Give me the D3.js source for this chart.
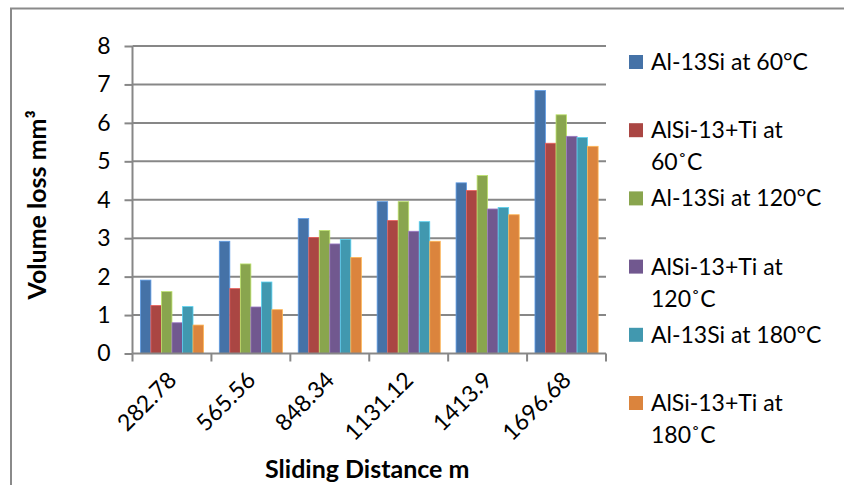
<!DOCTYPE html>
<html>
<head>
<meta charset="utf-8">
<script src="https://cdn.jsdelivr.net/npm/d3@7"></script>
<style>
  html, body { margin: 0; padding: 0; background: #fff; }
  svg { display: block; }
  text { font-family: Lato, "Noto Sans", sans-serif; fill: #000; }
</style>
</head>
<body>
<svg id="chart" width="844" height="485"></svg>
<script>
// Sliding distance categories (m)
const categories = ["282.78", "565.56", "848.34", "1131.12", "1413.9", "1696.68"];

// Volume loss (mm³) per series
const al13Si60   = [1.91, 2.92, 3.51, 3.95, 4.44, 6.84];
const alSiTi60   = [1.25, 1.69, 3.02, 3.46, 4.24, 5.47];
const al13Si120  = [1.61, 2.33, 3.20, 3.95, 4.63, 6.21];
const alSiTi120  = [0.80, 1.21, 2.85, 3.18, 3.76, 5.65];
const al13Si180  = [1.22, 1.86, 2.97, 3.43, 3.80, 5.62];
const alSiTi180  = [0.74, 1.14, 2.50, 2.92, 3.61, 5.39];

const seriesNames = [
  "Al-13Si at 60°C",
  "AlSi-13+Ti at 60˚C",
  "Al-13Si at 120°C",
  "AlSi-13+Ti at 120˚C",
  "Al-13Si at 180°C",
  "AlSi-13+Ti at 180˚C"
];
const seriesValues = [al13Si60, alSiTi60, al13Si120, alSiTi120, al13Si180, alSiTi180];
const seriesColors = ["#4572A7", "#AA4643", "#89A54E", "#71588F", "#4198AF", "#DB843D"];

const yTicks = [0, 1, 2, 3, 4, 5, 6, 7, 8];

const svg = d3.select("#chart");
const plot = { left: 132.5, right: 606, top: 46, bottom: 353.5 };
const gridColor = "#878787";
const fontSize = 23;
const titleSize = 25;

// Outer chart frame (left and top edges)
svg.append("path")
  .attr("d", "M11,485V8.5H844")
  .attr("fill", "none")
  .attr("stroke", "#8a8a8a")
  .attr("stroke-width", 2);

const y = d3.scaleLinear().domain([0, 8]).range([plot.bottom, plot.top]);
const x0 = d3.scaleBand().domain(categories).range([plot.left, plot.right])
  .paddingInner(0.2).paddingOuter(0.1);
const x1 = d3.scaleBand().domain(d3.range(seriesNames.length)).range([0, x0.bandwidth()]);

// Horizontal gridlines
svg.append("g")
  .selectAll("line")
  .data(yTicks.filter(t => t > 0))
  .join("line")
  .attr("x1", plot.left).attr("x2", plot.right)
  .attr("y1", d => y(d)).attr("y2", d => y(d))
  .attr("stroke", gridColor).attr("stroke-width", 2);

// Bars
const groups = svg.append("g")
  .selectAll("g")
  .data(categories)
  .join("g")
  .attr("transform", c => `translate(${x0(c)},0)`);

groups.selectAll("rect")
  .data((c, ci) => seriesValues.map((vals, si) => ({ si, v: vals[ci] })))
  .join("rect")
  .attr("x", d => x1(d.si))
  .attr("width", x1.bandwidth())
  .attr("y", d => y(d.v))
  .attr("height", d => y(0) - y(d.v))
  .attr("fill", d => seriesColors[d.si])
  .attr("stroke", d => d3.color(seriesColors[d.si]).brighter(0.9))
  .attr("stroke-width", 0.8);

// Y axis
const yAxis = svg.append("g")
  .attr("transform", `translate(${plot.left},0)`)
  .call(d3.axisLeft(y).tickValues(yTicks).tickSize(8).tickPadding(14).tickFormat(d3.format("d")));
yAxis.select(".domain").attr("stroke", gridColor).attr("stroke-width", 2).attr("d", `M0,${plot.bottom}V${plot.top}`);
yAxis.selectAll(".tick line").attr("stroke", gridColor).attr("stroke-width", 2);
yAxis.selectAll(".tick text")
  .style("font-family", "Lato, sans-serif")
  .attr("font-size", fontSize)
  .attr("fill", "#000");

// X axis line with ticks at category boundaries
const step = x0.step();
const boundaries = d3.range(categories.length + 1).map(i => plot.left + i * step);
const xAxis = svg.append("g");
xAxis.append("line")
  .attr("x1", plot.left).attr("x2", plot.right)
  .attr("y1", plot.bottom).attr("y2", plot.bottom)
  .attr("stroke", gridColor).attr("stroke-width", 2);
xAxis.selectAll("line.tick")
  .data(boundaries)
  .join("line")
  .attr("class", "tick")
  .attr("x1", d => d).attr("x2", d => d)
  .attr("y1", plot.bottom).attr("y2", plot.bottom + 8)
  .attr("stroke", gridColor).attr("stroke-width", 2);

// Rotated category labels
xAxis.selectAll("text")
  .data(categories)
  .join("text")
  .attr("transform", c => `translate(${x0(c) + x0.bandwidth() / 2 + 6},${plot.bottom + 28}) rotate(-45)`)
  .attr("text-anchor", "end")
  .attr("font-size", fontSize)
  .text(c => c);

// Axis titles
svg.append("text")
  .attr("transform", `translate(46,${(plot.top + plot.bottom) / 2 + 5}) rotate(-90)`)
  .attr("text-anchor", "middle")
  .attr("font-size", titleSize)
  .attr("font-weight", "bold")
  .text("Volume loss mm³");

svg.append("text")
  .attr("x", (plot.left + plot.right) / 2 - 2)
  .attr("y", 478)
  .attr("text-anchor", "middle")
  .attr("font-size", titleSize)
  .attr("font-weight", "bold")
  .text("Sliding Distance m");

// Legend with word-wrapped entries
const legend = svg.append("g");
const legendX = 629, legendTop = 70, entryStep = 68.2, lineHeight = 32, maxTextWidth = 180;
seriesNames.forEach((name, i) => {
  const baseY = legendTop + i * entryStep;
  legend.append("rect")
    .attr("x", legendX).attr("y", baseY - 15)
    .attr("width", 14).attr("height", 14)
    .attr("fill", seriesColors[i]);
  const t = legend.append("text")
    .attr("x", legendX + 22).attr("y", baseY)
    .attr("font-size", fontSize);
  const words = name.split(" ");
  let line = [];
  let tspan = t.append("tspan").attr("x", legendX + 22).attr("y", baseY);
  let lineNo = 0;
  words.forEach(w => {
    line.push(w);
    tspan.text(line.join(" "));
    if (tspan.node().getComputedTextLength() > maxTextWidth && line.length > 1) {
      line.pop();
      tspan.text(line.join(" "));
      line = [w];
      lineNo += 1;
      tspan = t.append("tspan").attr("x", legendX + 22).attr("y", baseY + lineNo * lineHeight).text(w);
    }
  });
});
</script>
</body>
</html>
